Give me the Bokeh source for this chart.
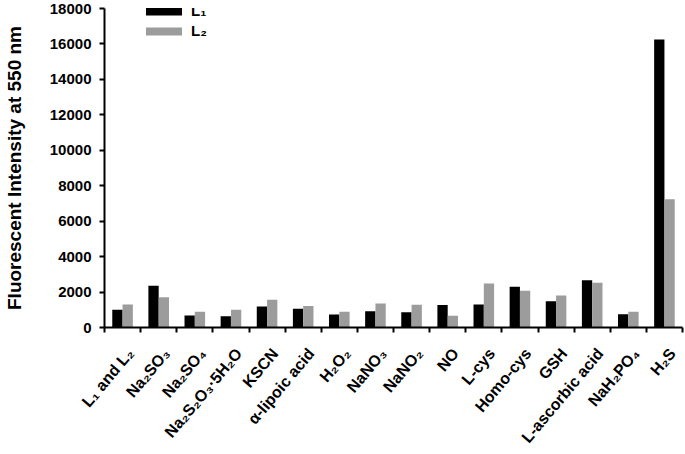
from math import radians
from bokeh.plotting import figure
from bokeh.models import (Range1d, FixedTicker, LinearAxis, Legend,
                          LegendItem, ColumnDataSource)
from bokeh.transform import dodge
from bokeh.embed import file_html
from bokeh.resources import INLINE

categories = ["L₁ and L₂", "Na₂SO₃", "Na₂SO₄", "Na₂S₂O₃·5H₂O", "KSCN",
              "α-lipoic acid", "H₂O₂", "NaNO₃", "NaNO₂", "NO", "L-cys",
              "Homo-cys", "GSH", "L-ascorbic acid", "NaH₂PO₄", "H₂S"]
l1_values = [1000, 2360, 680, 630, 1180, 1060, 730, 910, 860, 1270, 1300,
             2300, 1480, 2660, 750, 16250]
l2_values = [1300, 1710, 890, 1000, 1570, 1220, 890, 1360, 1290, 660, 2480,
             2070, 1800, 2520, 890, 7230]
series_names = ["L₁", "L₂"]
y_ticks = [0, 2000, 4000, 6000, 8000, 10000, 12000, 14000, 16000, 18000]

FONT = "Liberation Sans"
n = len(categories)
centers = [i + 0.5 for i in range(n)]
src = ColumnDataSource(dict(x=centers, l1=l1_values, l2=l2_values))

H, TOP, BOTTOM = 454, 8, 116
frame_h = H - TOP - BOTTOM

p = figure(width=685, height=H, output_backend="svg", toolbar_location=None,
           x_range=Range1d(0, n), y_range=Range1d(0, 18000),
           x_axis_location=None,
           min_border_left=101, min_border_right=3, min_border_top=TOP,
           min_border_bottom=BOTTOM)
p.outline_line_color = None
p.grid.visible = False
p.background_fill_color = "white"

bw = 0.285
r1 = p.vbar(x=dodge("x", -bw / 2), top="l1", width=bw,
            source=src, fill_color="black", line_color=None)
r2 = p.vbar(x=dodge("x", bw / 2), top="l2", width=bw,
            source=src, fill_color="#9c9c9c", line_color=None)

# boundary ticks (no labels), closest to the frame
tick_axis = LinearAxis(ticker=FixedTicker(ticks=list(range(n + 1))),
                       major_label_overrides={i: "" for i in range(n + 1)},
                       major_label_standoff=0)
# category labels, rotated; anchored a little right of each centre
label_shift = 0.22
label_pos = [c + label_shift for c in centers]
cat_axis = LinearAxis(ticker=FixedTicker(ticks=label_pos),
                      major_label_overrides=dict(zip(label_pos, categories)),
                      major_label_orientation=radians(50),
                      axis_line_color=None, major_tick_line_color=None,
                      minor_tick_line_color=None, major_label_standoff=12)
p.add_layout(tick_axis, "below")
p.add_layout(cat_axis, "below")

for ax in (tick_axis, p.yaxis[0], cat_axis):
    ax.major_label_text_font = FONT
    ax.major_label_text_font_style = "bold"
    ax.major_label_text_font_size = "15px"
    ax.major_label_text_color = "black"
cat_axis.major_label_text_font_size = "16px"
tick_axis.major_label_text_font_size = "1px"
for ax in (tick_axis, p.yaxis[0]):
    ax.axis_line_width = 2
    ax.axis_line_color = "black"
    ax.major_tick_line_width = 2
    ax.major_tick_line_color = "black"
    ax.major_tick_in = 0
    ax.major_tick_out = 5
    ax.minor_tick_line_color = None

p.yaxis.ticker = FixedTicker(ticks=y_ticks)
p.yaxis.major_label_standoff = 8
p.yaxis.axis_label = "Fluorescent Intensity at 550 nm"
p.yaxis.axis_label_text_font = FONT
p.yaxis.axis_label_text_font_style = "bold"
p.yaxis.axis_label_text_font_size = "19px"
p.yaxis.axis_label_text_color = "black"
p.yaxis.axis_label_standoff = 22

legend = Legend(items=[LegendItem(label=series_names[0], renderers=[r1]),
                       LegendItem(label=series_names[1], renderers=[r2])],
                location=(37, frame_h - 42), glyph_width=45, glyph_height=10,
                label_standoff=5, spacing=3, padding=0, margin=0,
                border_line_color=None, background_fill_alpha=0,
                label_text_font=FONT, label_text_font_style="bold",
                label_text_font_size="15px", label_text_color="black")
p.add_layout(legend)

open("out.html", "w").write(file_html(p, INLINE))
